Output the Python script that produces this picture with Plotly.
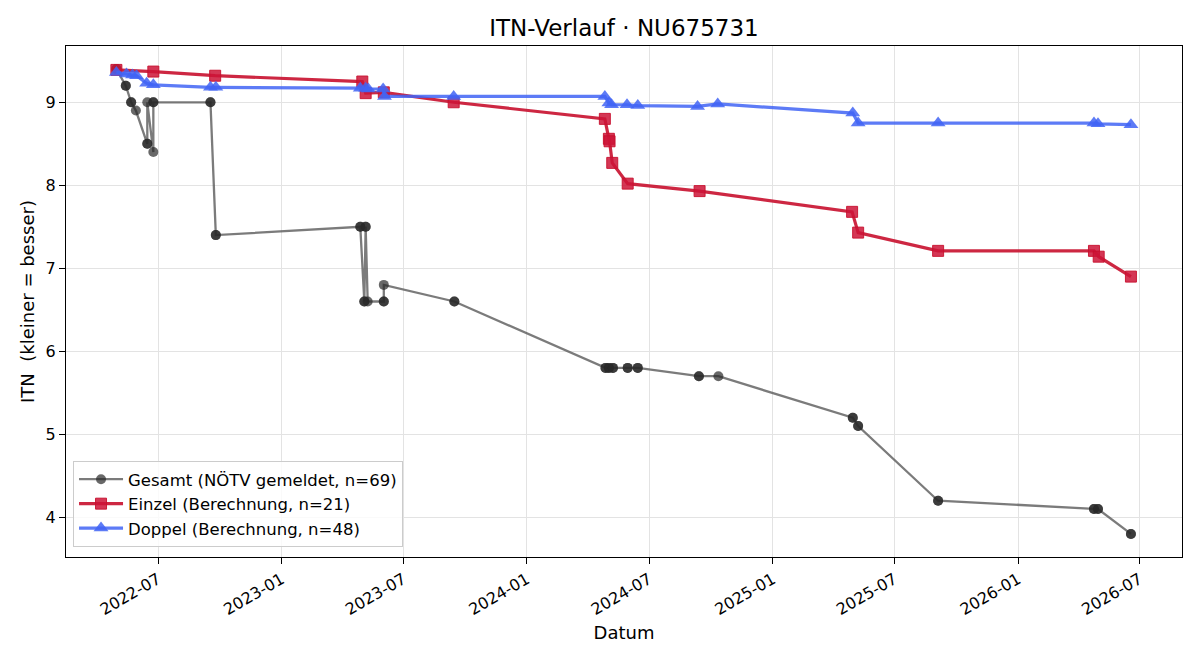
import plotly.graph_objects as go

# ---- data ----
gesamt_dates = ["2022-04-30", "2022-04-30", "2022-05-14", "2022-05-14", "2022-05-22", "2022-05-22",
                "2022-05-29", "2022-06-15", "2022-06-15", "2022-06-15", "2022-06-24", "2022-06-24",
                "2022-06-24", "2022-09-17", "2022-09-17", "2022-09-25", "2022-09-25",
                "2023-04-28", "2023-04-28", "2023-05-04", "2023-05-04", "2023-05-06", "2023-05-06",
                "2023-05-09", "2023-06-02", "2023-06-02", "2023-06-02", "2023-09-15", "2023-09-15",
                "2024-04-27", "2024-04-27", "2024-05-02", "2024-05-02", "2024-05-08", "2024-05-08",
                "2024-05-30", "2024-05-30", "2024-06-14", "2024-06-14", "2024-09-13", "2024-09-13",
                "2024-10-12", "2025-04-30", "2025-04-30", "2025-05-08", "2025-05-08",
                "2025-09-04", "2025-09-04", "2026-04-24", "2026-04-24", "2026-04-30", "2026-04-30",
                "2026-06-18", "2026-06-18"]
gesamt_vals = [9.4, 9.4, 9.2, 9.2, 9.0, 9.0,
               8.9, 8.5, 8.5, 9.0, 8.4, 9.0,
               9.0, 9.0, 9.0, 7.4, 7.4,
               7.5, 7.5, 6.6, 6.6, 7.5, 7.5,
               6.6, 6.6, 6.6, 6.8, 6.6, 6.6,
               5.8, 5.8, 5.8, 5.8, 5.8, 5.8,
               5.8, 5.8, 5.8, 5.8, 5.7, 5.7,
               5.7, 5.2, 5.2, 5.1, 5.1,
               4.2, 4.2, 4.1, 4.1, 4.1, 4.1,
               3.8, 3.8]

einzel_dates = ["2022-04-30", "2022-06-24", "2022-09-24", "2023-05-01", "2023-05-06", "2023-06-02",
                "2023-09-14", "2024-04-26", "2024-05-02", "2024-05-03", "2024-05-07", "2024-05-30",
                "2024-09-14", "2025-04-29", "2025-05-08", "2025-09-04", "2026-04-24", "2026-05-01",
                "2026-06-18"]
einzel_vals = [9.39, 9.37, 9.32, 9.25, 9.11, 9.12,
               9.0, 8.8, 8.56, 8.53, 8.27, 8.02,
               7.93, 7.68, 7.43, 7.21, 7.21, 7.14,
               6.90]

doppel_dates = ["2022-04-30", "2022-05-15", "2022-05-24", "2022-05-30", "2022-06-14", "2022-06-24",
                "2022-09-17", "2022-09-25", "2023-04-28", "2023-05-06", "2023-05-10", "2023-06-01",
                "2023-06-03", "2023-09-14", "2024-04-26", "2024-05-02", "2024-05-06", "2024-05-29",
                "2024-06-14", "2024-09-11", "2024-10-11", "2025-04-30", "2025-05-08", "2025-09-04",
                "2026-04-24", "2026-04-30", "2026-06-18"]
doppel_vals = [9.36, 9.34, 9.33, 9.32, 9.23, 9.21,
               9.18, 9.18, 9.17, 9.17, 9.16, 9.16,
               9.07, 9.07, 9.07, 8.99, 8.97, 8.97,
               8.96, 8.95, 8.98, 8.87, 8.75, 8.75,
               8.75, 8.74, 8.73]

labels = ["Gesamt (NÖTV gemeldet, n=69)", "Einzel (Berechnung, n=21)", "Doppel (Berechnung, n=48)"]
title = "ITN-Verlauf · NU675731"
y_ticks = [4, 5, 6, 7, 8, 9]

FONT = "DejaVu Sans"

fig = go.Figure()
fig.add_trace(go.Scatter(
    x=gesamt_dates, y=gesamt_vals, mode="lines+markers", name=labels[0], legendgroup="g",
    line=dict(color="rgba(90,90,90,0.8)", width=2.3),
    marker=dict(symbol="circle", size=10, color="rgba(40,40,40,0.7)",
                line=dict(width=0))))
fig.add_trace(go.Scatter(
    x=einzel_dates, y=einzel_vals, mode="lines+markers", name=labels[1], legendgroup="e",
    line=dict(color="rgba(200,16,46,0.9)", width=3.2),
    marker=dict(symbol="square", size=11, color="rgba(205,20,55,0.85)",
                line=dict(width=1, color="rgba(200,16,46,0.9)"))))
fig.add_trace(go.Scatter(
    x=doppel_dates, y=doppel_vals, mode="lines+markers", name=labels[2], legendgroup="d",
    line=dict(color="rgba(65,100,245,0.85)", width=3.2),
    marker=dict(symbol="triangle-up", size=13, color="rgba(65,100,245,0.85)",
                line=dict(width=0))))

fig.update_layout(
    width=1200, height=660,
    margin=dict(l=66, r=18, t=46, b=103),
    paper_bgcolor="white", plot_bgcolor="white",
    font=dict(family=FONT, size=16, color="black"),
    title=dict(text=title, x=0.52, xanchor="center", y=1 - 28 / 660, yanchor="middle",
               font=dict(family=FONT, size=23, color="black")),
    showlegend=True,
    legend=dict(x=0.0063, y=0.0196, xanchor="left", yanchor="bottom",
                bgcolor="rgba(255,255,255,0.8)", bordercolor="#cccccc", borderwidth=1,
                tracegroupgap=4, traceorder="normal", itemwidth=44,
                font=dict(family=FONT, size=16.5)),
)
fig.update_xaxes(
    type="date", range=["2022-02-14", "2026-09-02"],
    tick0="2022-01-01", dtick="M6", tickformat="%Y-%m", tickangle=-30,
    ticks="outside", ticklen=6, tickcolor="black",
    showline=True, linecolor="black", linewidth=1, mirror=True,
    showgrid=True, gridcolor="#e3e3e3", gridwidth=1, zeroline=False,
    title=dict(text="Datum", font=dict(family=FONT, size=18), standoff=8),
    tickfont=dict(family=FONT, size=16),
)
fig.update_yaxes(
    range=[3.522, 9.678], tickvals=y_ticks,
    ticks="outside", ticklen=6, tickcolor="black",
    showline=True, linecolor="black", linewidth=1, mirror=True,
    showgrid=True, gridcolor="#e3e3e3", gridwidth=1, zeroline=False,
    title=dict(text="ITN\u00a0 (kleiner = besser)", font=dict(family=FONT, size=18), standoff=6),
    tickfont=dict(family=FONT, size=16),
)

fig.write_html("out.html")
